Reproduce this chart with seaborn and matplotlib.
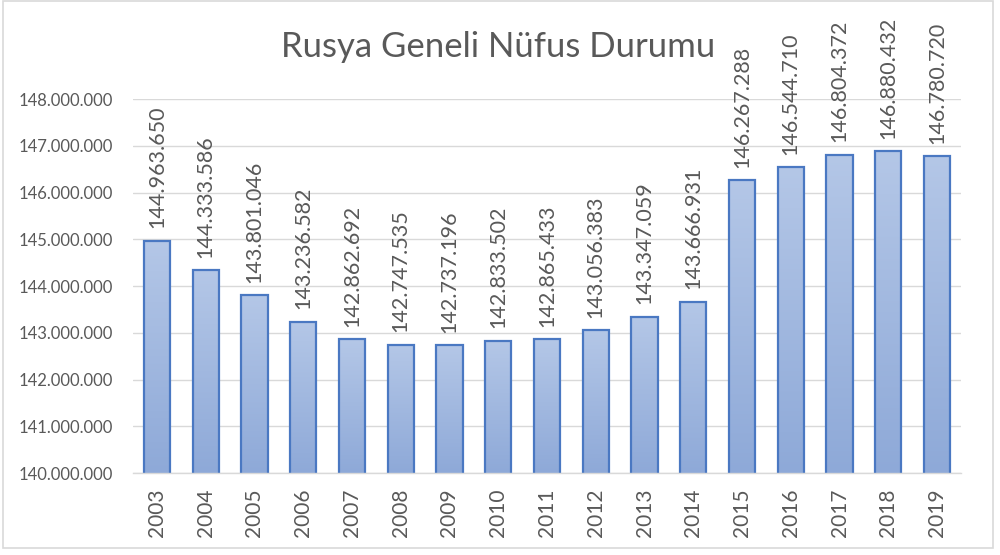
import numpy as np
import pandas as pd
import matplotlib
matplotlib.use("Agg")
import matplotlib.pyplot as plt
import seaborn as sns
from matplotlib.colors import LinearSegmentedColormap
from matplotlib.patches import Rectangle
from matplotlib.ticker import FuncFormatter

# Veriler
yillar = [str(y) for y in range(2003, 2020)]
nufus = [144963650, 144333586, 143801046, 143236582, 142862692, 142747535,
         142737196, 142833502, 142865433, 143056383, 143347059, 143666931,
         146267288, 146544710, 146804372, 146880432, 146780720]
y_ticks = list(range(140000000, 148000001, 1000000))

sns.set_theme(style="white")
plt.rcParams["font.family"] = ["Lato", "DejaVu Sans"]

GRAY = "#595959"
df = pd.DataFrame({"yil": yillar, "nufus": nufus})

fig = plt.figure(figsize=(10, 5.55), dpi=100)
ax = fig.add_axes([0.1326, 0.1477, 0.8288, 0.6739])

sns.barplot(data=df, x="yil", y="nufus", ax=ax, color="#9fb6dd",
            width=0.54, edgecolor="#4a78c2", linewidth=1.6, zorder=3)

ymin, ymax = y_ticks[0], y_ticks[-1]

# Excel tarzı dikey gradyan dolgu
cmap = LinearSegmentedColormap.from_list("grad", ["#b4c7e7", "#8ea9d8"])
grad = np.linspace(0, 1, 256).reshape(-1, 1)
for p in ax.patches:
    x0, w = p.get_x(), p.get_width()
    top = p.get_y() + p.get_height()
    p.set_facecolor("none")
    im = ax.imshow(grad, cmap=cmap, aspect="auto", origin="upper",
                   extent=(x0, x0 + w, ymin, top), zorder=2.5)
    im.set_clip_path(p)
ax.set_xlim(-0.5, len(yillar) - 0.5)
ax.set_ylim(ymin, ymax)

# Veri etiketleri
for i, v in enumerate(nufus):
    ax.annotate(f"{v:,}".replace(",", "."), (i, v), xytext=(0, 9),
                textcoords="offset points", rotation=90, ha="center", va="bottom",
                fontsize=15.5, color=GRAY, zorder=4)

ax.set_yticks(y_ticks)
ax.yaxis.set_major_formatter(FuncFormatter(lambda v, _: f"{int(v):,}".replace(",", ".")))
ax.grid(axis="y", color="#d9d9d9", linewidth=1, zorder=0)
ax.tick_params(axis="y", labelsize=12, colors=GRAY, length=0, pad=14)
ax.tick_params(axis="x", labelsize=15, colors=GRAY, length=0, pad=11, rotation=90)
ax.set_xlabel("")
ax.set_ylabel("")
for s in ["top", "right", "left"]:
    ax.spines[s].set_visible(False)
ax.spines["bottom"].set_color("#d9d9d9")
ax.spines["bottom"].set_linewidth(1)
ax.spines["bottom"].set_zorder(3)

fig.text(0.498, 0.915, "Rusya Geneli Nüfus Durumu", ha="center", va="center",
         fontsize=25, color=GRAY)

# Grafik çerçevesi
fig.patches.append(Rectangle((0.003, 0.012), 0.99, 0.986, transform=fig.transFigure,
                             fill=False, edgecolor="#d9d9d9", linewidth=1.2))

fig.savefig("out.png", dpi=100)
